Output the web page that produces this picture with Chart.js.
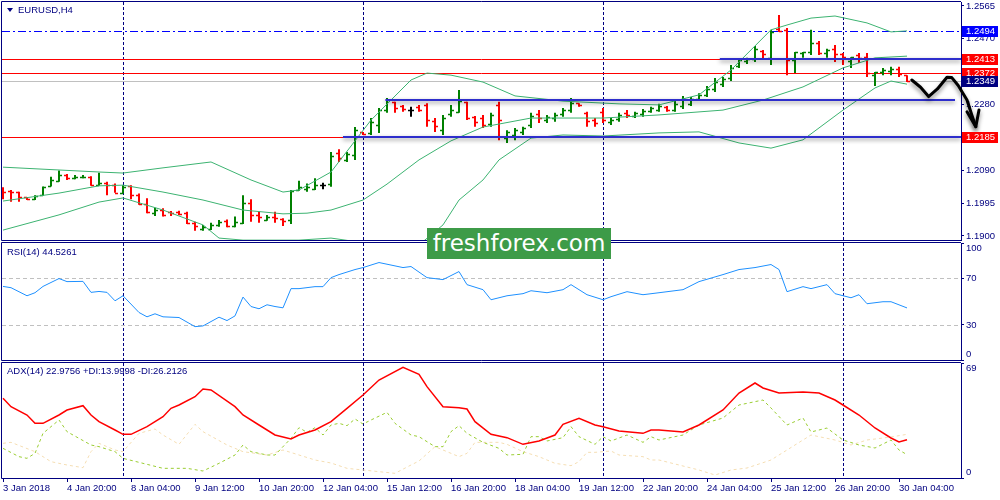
<!DOCTYPE html>
<html>
<head>
<meta charset="utf-8">
<title>EURUSD H4</title>
<script src="https://cdn.jsdelivr.net/npm/chart.js@4.4.1/dist/chart.umd.min.js"></script>
<style>
  body { margin: 0; background: #fff; }
  #wrap { position: relative; width: 1000px; height: 500px; overflow: hidden; background: #fff; }
  #wrap canvas { position: absolute; left: 0; }
  #logo { position: absolute; left: 427px; top: 228px; width: 184px; height: 31px; background: #3d9b48; color: #fff;
          font: 23px "DejaVu Sans", sans-serif; line-height: 31px; text-align: center; }
</style>
</head>
<body>
<div id="wrap">
  <canvas id="mainChart" width="1000" height="241" style="top:0"></canvas>
  <canvas id="rsiChart" width="1000" height="120" style="top:241px"></canvas>
  <canvas id="adxChart" width="1000" height="139" style="top:361px"></canvas>
  <div id="logo">freshforex.com</div>
</div>
<script>
const NAVY = '#000080';
const FONT = { family: 'Liberation Sans, Arial, sans-serif', size: 9.5 };

// EURUSD H4 bars
const opens  = [1.2033,1.2030,1.2026,1.2012,1.2007,1.2018,1.2045,1.2060,1.2076,1.2067,1.2070,1.2071,1.2047,1.2052,1.2047,1.2025,1.2045,1.2018,1.1992,1.1967,
                1.1975,1.1970,1.1970,1.1966,1.1938,1.1919,1.1919,1.1932,1.1944,1.1929,1.1938,1.1994,1.1961,1.1946,1.1956,1.1948,1.1946,1.2033,1.2035,1.2035,
                1.2047,1.2050,1.2140,1.2120,1.2134,1.2201,1.2198,1.2221,1.2264,1.2287,1.2276,1.2264,1.2273,1.2279,1.2232,1.2206,1.2253,1.2259,1.2287,1.2244,
                1.2241,1.2224,1.2279,1.2183,1.2192,1.2201,1.2221,1.2253,1.2235,1.2241,1.2253,1.2264,1.2284,1.2256,1.2235,1.2259,1.2230,1.2238,1.2256,1.2247,
                1.2253,1.2261,1.2264,1.2273,1.2264,1.2276,1.2282,1.2296,1.2308,1.2325,1.2339,1.2357,1.2392,1.2406,1.2412,1.2435,1.2415,1.2498,1.2496,1.2409,
                1.2429,1.2432,1.2458,1.2429,1.2441,1.2426,1.2406,1.2423,1.2417,1.2365,1.2374,1.2377,1.2383,1.2365];
const highs  = [1.2041,1.2033,1.2028,1.2013,1.2018,1.2043,1.2071,1.2089,1.2079,1.2076,1.2076,1.2073,1.2083,1.2057,1.2052,1.2047,1.2047,1.2023,1.2009,1.1982,
                1.1980,1.1972,1.1973,1.1970,1.1941,1.1932,1.1938,1.1946,1.1948,1.1956,1.2018,1.2006,1.1970,1.1961,1.1970,1.1951,1.2033,1.2060,1.2052,1.2067,
                1.2054,1.2143,1.2151,1.2143,1.2215,1.2201,1.2241,1.2270,1.2299,1.2288,1.2279,1.2274,1.2279,1.2284,1.2241,1.2250,1.2279,1.2322,1.2288,1.2247,
                1.2250,1.2256,1.2288,1.2206,1.2212,1.2216,1.2256,1.2264,1.2250,1.2256,1.2270,1.2299,1.2284,1.2259,1.2241,1.2270,1.2241,1.2256,1.2264,1.2259,
                1.2267,1.2274,1.2282,1.2276,1.2293,1.2305,1.2302,1.2313,1.2334,1.2357,1.2360,1.2394,1.2412,1.2415,1.2449,1.2438,1.2496,1.2539,1.2501,1.2432,
                1.2432,1.2496,1.2464,1.2441,1.2452,1.2429,1.2417,1.2429,1.2429,1.2374,1.2386,1.2389,1.2389,1.2365];
const lows   = [1.2006,1.1999,1.1999,1.2004,1.2004,1.2016,1.2043,1.2057,1.2062,1.2064,1.2067,1.2045,1.2045,1.2018,1.2025,1.2023,1.2006,1.1990,1.1966,1.1958,
                1.1956,1.1958,1.1961,1.1935,1.1915,1.1915,1.1917,1.1927,1.1925,1.1925,1.1935,1.1941,1.1938,1.1944,1.1938,1.1929,1.1935,1.2031,1.2028,1.2033,
                1.2035,1.2042,1.2114,1.2114,1.2120,1.2192,1.2192,1.2198,1.2256,1.2256,1.2259,1.2245,1.2259,1.2216,1.2201,1.2192,1.2245,1.2256,1.2235,1.2216,
                1.2212,1.2216,1.2177,1.2169,1.2177,1.2192,1.2212,1.2227,1.2227,1.2230,1.2245,1.2256,1.2274,1.2216,1.2216,1.2227,1.2221,1.2230,1.2241,1.2241,
                1.2245,1.2256,1.2259,1.2259,1.2259,1.2267,1.2276,1.2290,1.2302,1.2316,1.2331,1.2348,1.2386,1.2397,1.2403,1.2409,1.2394,1.2490,1.2365,1.2371,
                1.2415,1.2423,1.2423,1.2415,1.2403,1.2394,1.2386,1.2400,1.2360,1.2334,1.2365,1.2365,1.2360,1.2345];
const closes = [1.2028,1.2026,1.2013,1.2007,1.2016,1.2041,1.2062,1.2076,1.2067,1.2071,1.2071,1.2047,1.2052,1.2047,1.2025,1.2043,1.2018,1.1992,1.1970,1.1975,
                1.1961,1.1966,1.1964,1.1938,1.1929,1.1927,1.1932,1.1941,1.1929,1.1941,1.1994,1.1961,1.1956,1.1956,1.1951,1.1944,1.2031,1.2041,1.2041,1.2047,
                1.2047,1.2131,1.2125,1.2137,1.2206,1.2195,1.2230,1.2264,1.2293,1.2270,1.2267,1.2264,1.2264,1.2235,1.2218,1.2241,1.2264,1.2290,1.2241,1.2230,
                1.2221,1.2250,1.2235,1.2201,1.2206,1.2212,1.2247,1.2241,1.2244,1.2250,1.2264,1.2284,1.2279,1.2232,1.2227,1.2235,1.2235,1.2250,1.2250,1.2256,
                1.2261,1.2270,1.2276,1.2264,1.2282,1.2296,1.2296,1.2308,1.2325,1.2345,1.2354,1.2386,1.2409,1.2412,1.2441,1.2426,1.2490,1.2493,1.2409,1.2432,
                1.2432,1.2458,1.2429,1.2438,1.2426,1.2417,1.2417,1.2415,1.2371,1.2374,1.2380,1.2383,1.2368,1.2349];

const timeLabels = ['3 Jan 2018','4 Jan 20:00','8 Jan 04:00','9 Jan 12:00','10 Jan 20:00','12 Jan 04:00','15 Jan 12:00',
                    '16 Jan 20:00','18 Jan 04:00','19 Jan 12:00','22 Jan 20:00','24 Jan 04:00','25 Jan 12:00','26 Jan 20:00','30 Jan 04:00'];
const barsPerLabel = 8;
const weekStarts = [15, 45, 75, 105];

const priceTicks = [1.1900, 1.1995, 1.2090, 1.2185, 1.2280, 1.2375, 1.2470, 1.2565];
const rsiTicks = [0, 30, 70, 100];
const rsiLevels = [30, 70];
const adxTicks = [0, 69];

// Bollinger bands (bar, price)
const bbUpper = [[0,1.2099],[12,1.2085],[15,1.2082],[20,1.2097],[26,1.2114],[31,1.2062],[35,1.2027],[37,1.2033],[41,1.2085],
                 [46,1.2235],[51,1.2351],[53,1.2371],[56,1.2365],[60,1.2345],[64,1.2305],[70,1.2290],[77,1.2282],[82,1.2279],
                 [87,1.2308],[91,1.2380],[96,1.2496],[98,1.2510],[101,1.2530],[104,1.2536],[108,1.2516],[111,1.2490],[113,1.2493]];
const bbMiddle = [[0,1.2001],[7,1.2024],[12,1.2045],[15,1.2047],[20,1.2027],[25,1.2004],[30,1.1975],[35,1.1964],[38,1.1966],
                  [41,1.1975],[45,1.2004],[48,1.2050],[52,1.2120],[56,1.2175],[60,1.2215],[66,1.2241],[75,1.2241],[82,1.2250],
                  [90,1.2264],[95,1.2293],[100,1.2331],[105,1.2386],[109,1.2415],[113,1.2420]];
const bbLower = [[0,1.1917],[7,1.1961],[12,1.1998],[15,1.2010],[20,1.1975],[25,1.1932],[27,1.1894],[30,1.1888],[37,1.1888],
                 [41,1.1894],[47,1.1874],[52,1.1874],[55,1.1932],[57,1.2004],[60,1.2062],[62,1.2120],[66,1.2183],[70,1.2192],
                 [75,1.2189],[82,1.2198],[87,1.2201],[92,1.2169],[96,1.2154],[100,1.2178],[105,1.2264],[109,1.2328],[111,1.2348],[113,1.2339]];

// RSI(14) (bar, value)
const rsiPts = [[0,62.9],[1,61.8],[3,54.9],[4,57.5],[5,62.9],[7,69.6],[8,67.0],[10,67.2],[11,57.8],[12,58.6],[13,57.8],[14,50.6],
                [15,54.9],[17,40.6],[18,36.9],[19,39.5],[20,36.9],[22,36.3],[24,28.5],[25,29.1],[27,36.6],[28,33.7],[29,37.7],[30,53.8],
                [31,45.7],[32,43.8],[33,47.2],[34,45.7],[35,44.6],[36,61.0],[37,61.0],[39,62.7],[40,62.7],[41,70.4],[42,73.0],[44,77.3],
                [45,79.0],[47,83.3],[50,79.0],[51,79.9],[53,70.4],[55,68.7],[57,75.6],[58,64.4],[60,60.1],[61,51.5],[63,54.9],[65,56.7],
                [66,59.2],[68,57.5],[70,60.1],[71,64.4],[73,55.8],[75,51.5],[76,54.1],[78,58.4],[80,55.8],[82,57.5],[85,60.1],[87,67.0],
                [90,73.0],[92,77.3],[94,79.0],[96,81.6],[97,77.3],[98,58.4],[100,62.7],[101,61.0],[103,64.4],[104,56.7],[106,53.2],
                [107,55.8],[108,48.1],[110,49.8],[111,49.8],[113,44.5]];

// ADX(14), +DI, -DI (bar, value)
const adxPts = [[0,47.8],[1,42.8],[3,37.8],[4,32.8],[5,32.8],[7,37.8],[8,40.8],[10,43.4],[11,37.8],[12,33.8],[14,28.8],[15,26.2],
                [16,26.2],[18,30.8],[20,36.8],[21,41.8],[22,43.8],[24,48.8],[25,53.4],[26,52.8],[29,42.8],[30,37.8],[32,31.8],[34,25.8],
                [36,23.4],[37,25.8],[39,28.8],[41,33.8],[43,41.8],[45,49.8],[47,58.8],[50,66.4],[52,62.2],[53,54.8],[55,42.8],[57,42.2],
                [58,41.4],[59,33.8],[61,26.2],[63,24.2],[65,20.2],[67,22.2],[69,25.8],[70,32.2],[72,35.8],[74,31.8],[75,30.8],[77,28.2],
                [80,26.8],[81,28.8],[82,28.8],[85,27.6],[87,31.8],[90,40.8],[92,51.0],[94,57.0],[95,54.0],[97,51.0],[100,51.6],[102,51.0],
                [104,46.8],[105,43.8],[107,37.8],[109,30.0],[111,24.0],[112,21.6],[113,23.0]];
const plusDiPts = [[0,17.8],[2,12.8],[3,11.8],[4,14.8],[5,26.8],[7,34.8],[8,27.8],[11,19.8],[12,18.8],[14,15.8],[15,11.8],[17,9.4],
                   [20,5.8],[23,5.8],[25,4.2],[27,8.8],[29,13.8],[30,19.8],[31,15.8],[33,13.8],[34,13.8],[36,23.8],[37,30.2],[38,27.4],
                   [39,30.2],[40,25.8],[41,31.8],[42,32.8],[43,31.4],[44,35.4],[45,32.4],[46,34.8],[48,39.4],[49,32.8],[51,25.8],[52,24.8],
                   [54,18.8],[55,18.8],[56,27.8],[57,31.4],[58,26.8],[60,21.4],[62,17.8],[63,13.8],[65,14.2],[66,24.8],[67,24.8],[68,22.2],
                   [70,24.2],[71,30.8],[72,24.8],[74,20.2],[75,24.8],[76,22.2],[78,25.8],[80,21.4],[81,24.8],[82,22.8],[85,25.8],[87,31.8],
                   [90,36.0],[92,43.8],[95,46.8],[96,42.0],[98,31.8],[100,36.0],[101,27.6],[103,30.0],[105,22.8],[107,19.8],[109,18.0],
                   [111,22.8],[112,16.8],[113,14.0]];
const minusDiPts = [[0,20.8],[1,21.4],[4,15.8],[6,9.8],[8,7.8],[10,6.2],[11,15.8],[12,20.8],[14,16.8],[15,15.8],[17,26.8],[19,29.4],
                    [20,25.8],[22,20.2],[24,32.2],[25,27.8],[28,19.8],[30,15.8],[33,13.8],[35,16.8],[37,13.8],[39,10.8],[41,9.0],[43,5.8],
                    [45,4.8],[49,2.8],[51,7.8],[52,10.2],[54,18.8],[57,12.8],[58,14.8],[59,21.4],[62,21.4],[63,20.2],[65,15.8],[67,12.8],
                    [69,8.8],[71,7.4],[72,9.8],[73,15.4],[74,15.4],[76,16.2],[77,13.8],[80,12.8],[81,10.8],[82,10.8],[85,7.2],[87,4.8],
                    [89,1.8],[91,4.8],[93,6.0],[96,10.8],[98,16.8],[101,25.8],[104,22.8],[106,19.8],[108,22.8],[111,24.6],[113,26.2]];

// drawn objects on the price pane
const dashLevel = 1.2494;
const redLevels = [1.2413, 1.2372, 1.2185];
const bidPrice = 1.2349;
const chanPrice = [1.2413, 1.2293, 1.2185];
const chanFrom = [89.6, 47.8, 42.5];
const chanTo = [119.75, 119.0, 119.75];
const arrowPath = [[113.6,1.2351],[114.7,1.2330],[115.7,1.2303],[116.8,1.2325],[118,1.2359],[118.6,1.2358],[119.4,1.2335],
                   [120.5,1.2293],[121.1,1.2250],[121.6,1.2216]];
const arrowHead = [[120.5,1.2259],[121.6,1.2216],[122,1.2264]];

const X_MIN = -0.125, X_MAX = 119.75;
const pts = arr => arr.map(p => ({ x: p[0], y: p[1] }));

function xScale(show) {
  const s = { type: 'linear', min: X_MIN, max: X_MAX, display: show };
  if (!show) return s;
  return Object.assign(s, {
    afterBuildTicks: sc => { sc.ticks = timeLabels.map((t, k) => ({ value: k * barsPerLabel })); },
    afterFit: sc => { sc.height = 22; sc.paddingLeft = 0; sc.paddingRight = 0; },
    grid: { drawOnChartArea: false, color: NAVY, tickLength: 4 },
    border: { color: NAVY },
    ticks: { autoSkip: false, maxRotation: 0, minRotation: 0, align: 'start', padding: 1,
             color: NAVY, font: FONT, callback: (v, k) => timeLabels[k] }
  });
}

function yScale(min, max, ticks, fmt) {
  return {
    position: 'right', min: min, max: max,
    afterBuildTicks: sc => { sc.ticks = ticks.map(v => ({ value: v })); },
    afterFit: sc => { sc.width = 39; sc.paddingTop = 0; sc.paddingBottom = 0; },
    grid: { drawOnChartArea: false, color: NAVY, tickLength: 3 },
    border: { color: NAVY },
    ticks: { color: NAVY, padding: 2, font: FONT, callback: fmt }
  };
}

function baseOptions(y, showX) {
  return {
    responsive: false, animation: false, events: [],
    layout: { padding: { left: 2, top: 2, right: 0, bottom: showX ? 0 : 1 } },
    plugins: { legend: { display: false }, tooltip: { enabled: false } },
    scales: { x: xScale(showX), y: y }
  };
}

function hline(ctx, a, py) {
  ctx.beginPath(); ctx.moveTo(a.left, py); ctx.lineTo(a.right, py); ctx.stroke();
}

// separators, frame and caption, shared by the three panes
const panePlugin = {
  id: 'pane',
  beforeDatasetsDraw(chart, args, opts) {
    const { ctx, chartArea: a, scales: { x, y } } = chart;
    ctx.save();
    ctx.lineWidth = 1;
    ctx.strokeStyle = NAVY;
    ctx.setLineDash([3, 2]);
    weekStarts.forEach(i => {
      const px = Math.round(x.getPixelForValue(i)) + 0.5;
      ctx.beginPath(); ctx.moveTo(px, a.top); ctx.lineTo(px, a.bottom); ctx.stroke();
    });
    ctx.strokeStyle = '#C0C0C0';
    ctx.setLineDash([4, 3]);
    (opts.levels || []).forEach(v => hline(ctx, a, Math.round(y.getPixelForValue(v)) + 0.5));
    ctx.restore();
  },
  afterDraw(chart, args, opts) {
    const { ctx, chartArea: a } = chart;
    ctx.save();
    ctx.strokeStyle = NAVY;
    ctx.lineWidth = 1;
    ctx.beginPath();
    ctx.moveTo(a.right, a.top - 0.5); ctx.lineTo(a.left - 0.5, a.top - 0.5);
    ctx.lineTo(a.left - 0.5, a.bottom + 0.5); ctx.lineTo(a.right, a.bottom + 0.5);
    ctx.stroke();
    ctx.fillStyle = NAVY;
    ctx.font = '9.5px Liberation Sans, Arial, sans-serif';
    ctx.textBaseline = 'middle';
    let tx = 7;
    if (opts.arrow) {
      ctx.beginPath(); ctx.moveTo(7, 8); ctx.lineTo(13, 8); ctx.lineTo(10, 12); ctx.closePath(); ctx.fill();
      tx = 18;
    }
    ctx.fillText(opts.title, tx, opts.titleY);
    ctx.restore();
  }
};

// OHLC bars, levels, channels, the arrow and the price tags
const pricePlugin = {
  id: 'price',
  beforeDatasetsDraw(chart) {
    const { ctx, chartArea: a, scales: { x, y } } = chart;
    ctx.save();
    ctx.beginPath(); ctx.rect(a.left, a.top, a.width, a.height); ctx.clip();
    ctx.lineWidth = 1;
    ctx.strokeStyle = '#C0C0C0';
    hline(ctx, a, Math.round(y.getPixelForValue(bidPrice)) + 0.5);
    ctx.strokeStyle = '#FF0000';
    redLevels.forEach(v => hline(ctx, a, Math.round(y.getPixelForValue(v)) + 0.5));
    ctx.strokeStyle = '#0000FF';
    ctx.setLineDash([8, 3, 2, 3]);
    hline(ctx, a, Math.round(y.getPixelForValue(dashLevel)) + 0.5);
    ctx.setLineDash([]);

    for (let i = 0; i < closes.length; i++) {
      const px = Math.round(x.getPixelForValue(i));
      const o = Math.round(y.getPixelForValue(opens[i])) + 0.5;
      const c = Math.round(y.getPixelForValue(closes[i])) + 0.5;
      ctx.strokeStyle = closes[i] > opens[i] ? '#008000' : (closes[i] < opens[i] ? '#FF0000' : '#000000');
      ctx.lineWidth = 2;
      ctx.beginPath();
      ctx.moveTo(px, y.getPixelForValue(highs[i]));
      ctx.lineTo(px, y.getPixelForValue(lows[i]));
      ctx.stroke();
      ctx.lineWidth = 1.5;
      ctx.beginPath();
      ctx.moveTo(px - 3, o); ctx.lineTo(px, o);
      ctx.moveTo(px, c); ctx.lineTo(px + 3, c);
      ctx.stroke();
    }
    ctx.restore();
  },
  afterDatasetsDraw(chart) {
    const { ctx, chartArea: a, scales: { x, y } } = chart;
    ctx.save();
    ctx.shadowColor = 'rgba(0,0,0,0.45)';
    ctx.shadowBlur = 4;
    ctx.shadowOffsetY = 2;
    ctx.strokeStyle = '#2E2ECC';
    ctx.lineWidth = 2;
    chanPrice.forEach((p, k) => {
      const py = Math.round(y.getPixelForValue(p));
      ctx.beginPath();
      ctx.moveTo(x.getPixelForValue(chanFrom[k]), py);
      ctx.lineTo(Math.min(a.right, x.getPixelForValue(chanTo[k])), py);
      ctx.stroke();
    });
    // hand drawn arrow
    ctx.strokeStyle = '#000000';
    ctx.lineWidth = 3;
    ctx.lineJoin = 'round';
    ctx.lineCap = 'round';
    ctx.shadowOffsetY = 3;
    [arrowPath, arrowHead].forEach(path => {
      ctx.beginPath();
      path.forEach((p, k) => {
        const px = x.getPixelForValue(p[0]), py = y.getPixelForValue(p[1]);
        if (k) ctx.lineTo(px, py); else ctx.moveTo(px, py);
      });
      ctx.stroke();
    });
    ctx.restore();
  },
  afterDraw(chart) {
    const { ctx, chartArea: a, scales: { y } } = chart;
    const tags = [[dashLevel, '#0000FF'], [redLevels[0], '#FF0000'], [redLevels[1], '#FF0000'],
                  [bidPrice, NAVY], [redLevels[2], '#FF0000']];
    ctx.save();
    ctx.font = '9.5px Liberation Sans, Arial, sans-serif';
    ctx.textBaseline = 'middle';
    tags.forEach(t => {
      const py = Math.round(y.getPixelForValue(t[0]));
      ctx.fillStyle = t[1];
      ctx.fillRect(a.right + 1, py - 5, 36, 11);
      ctx.fillStyle = '#FFFFFF';
      ctx.fillText(t[0].toFixed(4), a.right + 5, py + 0.5);
    });
    ctx.restore();
  }
};

new Chart(document.getElementById('mainChart'), {
  type: 'line',
  data: {
    datasets: [bbUpper, bbMiddle, bbLower].map(b => ({
      data: pts(b), borderColor: '#3CB371', borderWidth: 1, pointRadius: 0, tension: 0, fill: false
    }))
  },
  options: Object.assign(baseOptions(yScale(1.18884, 1.25765, priceTicks, v => v.toFixed(4)), false), {}),
  plugins: [panePlugin, pricePlugin]
});
Chart.getChart('mainChart').options.plugins.pane = { title: 'EURUSD,H4', titleY: 10, arrow: true };
Chart.getChart('mainChart').update();

const rsiChart = new Chart(document.getElementById('rsiChart'), {
  type: 'line',
  data: {
    datasets: [{ data: pts(rsiPts), borderColor: '#1E90FF', borderWidth: 1, pointRadius: 0, tension: 0 }]
  },
  options: baseOptions(yScale(0, 100, rsiTicks, v => v === 100 ? ['', '100'] : (v === 0 ? ['0', ''] : String(v))), false),
  plugins: [panePlugin]
});
rsiChart.options.plugins.pane = { title: 'RSI(14) 44.5261', titleY: 11, levels: rsiLevels };
rsiChart.update();

const adxChart = new Chart(document.getElementById('adxChart'), {
  type: 'line',
  data: {
    datasets: [
      { data: pts(adxPts), borderColor: '#FF0000', borderWidth: 1.5, pointRadius: 0, tension: 0 },
      { data: pts(plusDiPts), borderColor: '#9ACD32', borderWidth: 1, borderDash: [3, 3], pointRadius: 0, tension: 0 },
      { data: pts(minusDiPts), borderColor: '#F5DEB3', borderWidth: 1, borderDash: [3, 3], pointRadius: 0, tension: 0 }
    ]
  },
  options: baseOptions(yScale(0, 69, adxTicks, v => v === 69 ? ['', '69'] : ['0', '']), true),
  plugins: [panePlugin]
});
adxChart.options.plugins.pane = { title: 'ADX(14) 22.9756 +DI:13.9998 -DI:26.2126', titleY: 10 };
adxChart.update();
</script>
</body>
</html>
